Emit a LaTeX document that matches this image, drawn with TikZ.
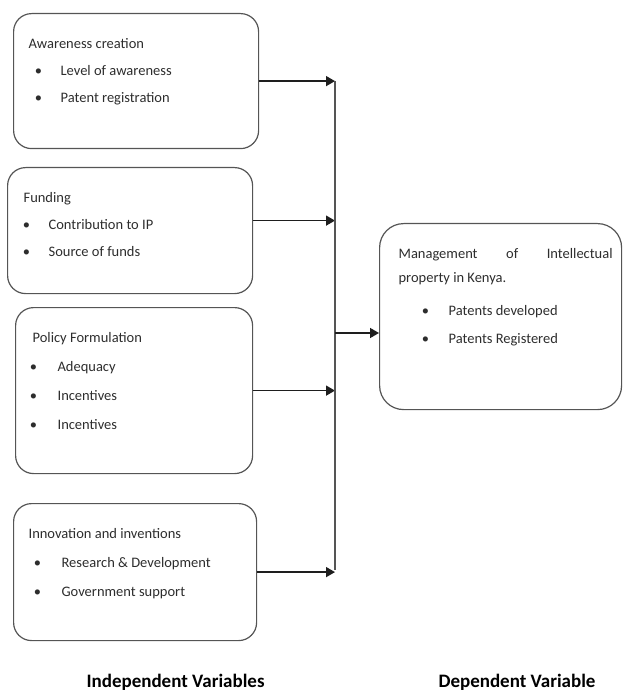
\documentclass[tikz,border=0pt]{standalone}
\usepackage{fontspec}
\setmainfont{Carlito}
\usetikzlibrary{arrows.meta,calc}
\usepackage{xcolor}

\definecolor{linegray}{RGB}{85,85,85}
\definecolor{inkgray}{RGB}{45,45,45}
\definecolor{arrowink}{RGB}{30,30,30}

% one line of a box: heading, or bullet point
\newcommand{\vhead}[2]{\noindent\hspace*{#1pt}\rule{0pt}{35pt}#2\par}
\newcommand{\vitem}[3]{\noindent\hspace*{#1pt}\makebox[0pt]{\textbullet}\hspace*{#2pt}#3\par}
% box body: width, height, line spacing, lines
\newcommand{\vbody}[4]{\vbox to #2pt{\hsize=#1pt\parindent=0pt\fontsize{14.5}{#3}\selectfont #4\vfil}}

\begin{document}
\begin{tikzpicture}[x=1pt, y=-1pt,
    varbox/.style={draw=linegray, line width=1.2pt, rounded corners=18pt,
      inner sep=0pt, anchor=north west, text=inkgray},
    link/.style={draw=linegray, line width=1.2pt},
    arr/.style={draw=arrowink, line width=1.5pt, -{Triangle[length=9pt, width=10pt]}},
    caption/.style={anchor=base west, text=black,
      font=\fontsize{19}{22}\selectfont\bfseries}]

  \useasboundingbox (0,0) rectangle (623,692);

  %--- Independent variables ---
  \node[varbox] (aware) at (13,13) {\vbody{245}{135}{27}{%
      \vhead{15}{Awareness creation}
      \vitem{25}{22}{Level of awareness}
      \vitem{25}{22}{Patent registration}}};

  \node[varbox] (fund) at (7,167) {\vbody{245}{126}{27}{%
      \vhead{16}{Funding}
      \vitem{19}{22}{Contribution to IP}
      \vitem{19}{22}{Source of funds}}};

  \node[varbox] (policy) at (15,307) {\vbody{237}{166}{29}{%
      \vhead{17}{Policy Formulation}
      \vitem{18}{24}{Adequacy}
      \vitem{18}{24}{Incentives}
      \vitem{18}{24}{Incentives}}};

  \node[varbox] (innov) at (13,503) {\vbody{243}{137}{29}{%
      \vhead{15}{Innovation and inventions}
      \vitem{24}{24}{Research \& Development}
      \vitem{24}{24}{Government support}}};

  %--- Dependent variable ---
  \node[varbox, rounded corners=24pt] (mgmt) at (379,223) {\vbody{242}{186}{24}{%
      {\leftskip=19pt \rightskip=9pt
       \rule{0pt}{35pt}Management of Intellectual\linebreak property in Kenya.\par}
      \vskip 5pt
      {\baselineskip=28pt
       \vitem{46}{23}{Patents developed}
       \vitem{46}{23}{Patents Registered}}}};

  %--- Collecting line ---
  \coordinate (ttop) at (335,81);
  \coordinate (tbot) at (335,570);
  \coordinate (tmid) at (335,333);

  \draw[arr] (aware.east) -- (aware.east -| ttop);
  \draw[arr] ([yshift=10pt]fund.east) -- ([yshift=10pt]fund.east -| ttop);
  \draw[arr] (policy.east) -- (policy.east -| ttop);
  \draw[arr] (innov.east) -- (innov.east -| ttop);
  \draw[link] (ttop) -- (tbot);
  \draw[arr] (tmid) -- (tmid -| mgmt.west);

  %--- Captions ---
  \node[caption] (indep) at (83,687) {Independent Variables};
  \node[caption] (dep) at (435,687) {Dependent Variable};

\end{tikzpicture}
\end{document}
